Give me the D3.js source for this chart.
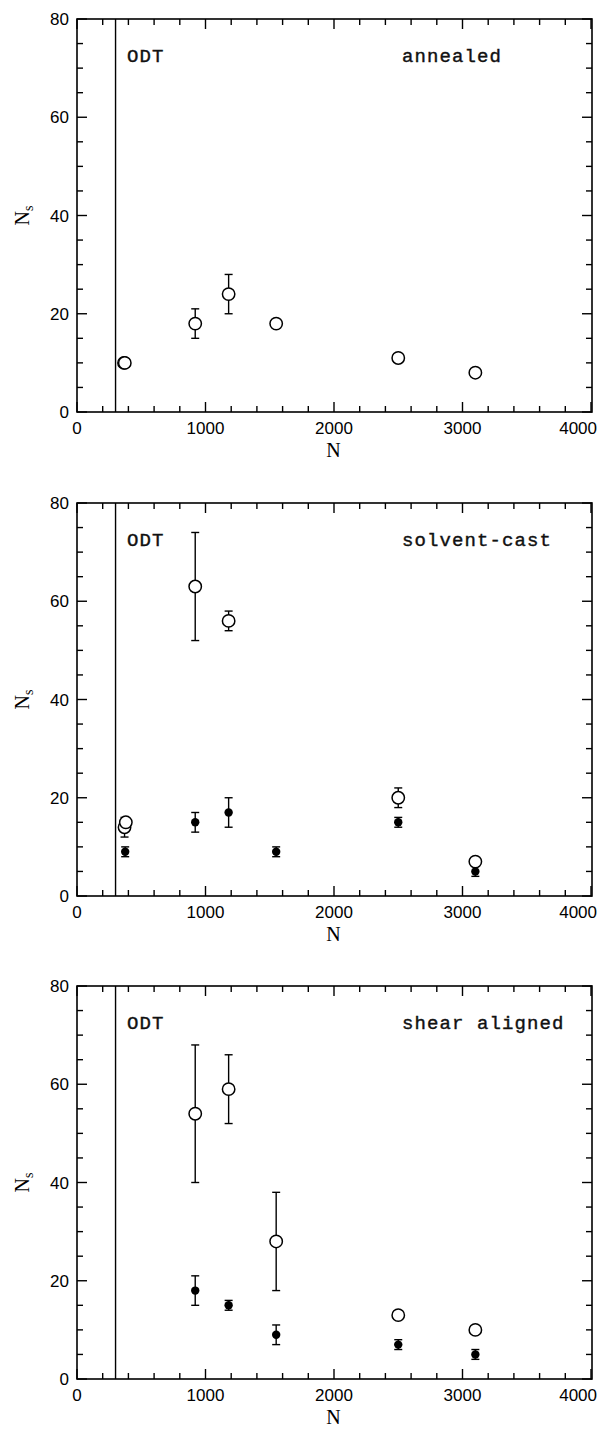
<!DOCTYPE html>
<html><head><meta charset="utf-8">
<script src="https://cdn.jsdelivr.net/npm/d3@7"></script>
<style>body{margin:0;background:#fff}svg{display:block}</style>
</head><body>
<svg id="c" width="600" height="1434"></svg>
<script>
// ---- data ----
const panelNames = ["annealed", "solvent-cast", "shear aligned"];
const odtN = 300;
const xTicks = [0, 1000, 2000, 3000, 4000];
const yTicks = [0, 20, 40, 60, 80];
// [N, Ns, low, high] ; low/high null => no error bar
const annealedOpen = [[366,10,null,null],[372,10,null,null],[920,18,15,21],[1180,24,20,28],[1550,18,null,null],[2500,11,null,null],[3100,8,null,null]];
const annealedFilled = [];
const solventOpen = [[370,14,12,16],[380,15,null,null],[920,63,52,74],[1180,56,54,58],[2500,20,18,22],[3100,7,null,null]];
const solventFilled = [[375,9,8,10],[920,15,13,17],[1180,17,14,20],[1550,9,8,10],[2500,15,14,16],[3100,5,4,6]];
const shearOpen = [[920,54,40,68],[1180,59,52,66],[1550,28,18,38],[2500,13,null,null],[3100,10,null,null]];
const shearFilled = [[920,18,15,21],[1180,15,14,16],[1550,9,7,11],[2500,7,6,8],[3100,5,4,6]];

const panels = [
  {name: panelNames[0], open: annealedOpen, filled: annealedFilled, top: 19},
  {name: panelNames[1], open: solventOpen, filled: solventFilled, top: 503},
  {name: panelNames[2], open: shearOpen, filled: shearFilled, top: 986}
];

const svg = d3.select("#c");
const L = 77, R = 592, H = 393;
const x = d3.scaleLinear().domain([0, 4000]).range([L, R - 1]);

panels.forEach(p => {
  const y = d3.scaleLinear().domain([0, 80]).range([p.top + H, p.top]);
  const g = svg.append("g");
  const yb = p.top + H;

  // frame
  g.append("rect").attr("x", L).attr("y", p.top).attr("width", R - L).attr("height", H)
    .attr("fill", "none").attr("stroke", "#000").attr("stroke-width", 1.6);

  // x ticks (inward, bottom and top)
  d3.range(0, 4001, 200).forEach(v => {
    const major = v % 1000 === 0;
    const len = major ? 10 : 6;
    const xx = x(v);
    g.append("line").attr("x1", xx).attr("x2", xx).attr("y1", yb).attr("y2", yb - len).attr("stroke", "#000").attr("stroke-width", 1.4);
    g.append("line").attr("x1", xx).attr("x2", xx).attr("y1", p.top).attr("y2", p.top + len).attr("stroke", "#000").attr("stroke-width", 1.4);
  });
  // y ticks (inward, left and right)
  d3.range(0, 81, 5).forEach(v => {
    const major = v % 20 === 0;
    const len = major ? 10 : 6;
    const yy = y(v);
    g.append("line").attr("x1", L).attr("x2", L + len).attr("y1", yy).attr("y2", yy).attr("stroke", "#000").attr("stroke-width", 1.4);
    g.append("line").attr("x1", R).attr("x2", R - len).attr("y1", yy).attr("y2", yy).attr("stroke", "#000").attr("stroke-width", 1.4);
  });

  // tick labels
  g.selectAll(".xl").data(xTicks).enter().append("text")
    .attr("x", d => d === 4000 ? 597 : x(d)).attr("y", yb + 22)
    .attr("text-anchor", d => d === 4000 ? "end" : "middle")
    .attr("font-family", "Liberation Sans, Arial, sans-serif").attr("font-size", 17).text(d => d);
  g.selectAll(".yl").data(yTicks).enter().append("text")
    .attr("x", L - 8).attr("y", d => y(d) + 6).attr("text-anchor", "end")
    .attr("font-family", "Liberation Sans, Arial, sans-serif").attr("font-size", 17).text(d => d);

  // axis titles
  g.append("text").attr("x", (L + R) / 2 - 1).attr("y", yb + 45).attr("text-anchor", "middle")
    .attr("font-family", "Liberation Serif, Times New Roman, serif").attr("font-size", 20).text("N");
  const yt = g.append("text").attr("transform", `translate(29,${(p.top + yb) / 2}) rotate(-90)`)
    .attr("text-anchor", "middle").attr("font-family", "Liberation Serif, Times New Roman, serif").attr("font-size", 20);
  yt.append("tspan").text("N");
  yt.append("tspan").attr("font-size", 14).attr("dy", 4).text("s");

  // ODT line
  g.append("line").attr("x1", x(odtN)).attr("x2", x(odtN)).attr("y1", p.top).attr("y2", yb)
    .attr("stroke", "#000").attr("stroke-width", 1.4);

  // labels
  g.append("text").attr("x", 127).attr("y", p.top + 43)
    .attr("font-family", "Liberation Mono, Courier New, monospace").attr("font-size", 19).attr("letter-spacing", 1.1)
    .attr("fill", "#111").attr("stroke", "#111").attr("stroke-width", 0.4).text("ODT");
  g.append("text").attr("x", 402).attr("y", p.top + 43).attr("text-anchor", "start")
    .attr("font-family", "Liberation Mono, Courier New, monospace").attr("font-size", 19).attr("letter-spacing", 1.1)
    .attr("fill", "#111").attr("stroke", "#111").attr("stroke-width", 0.4).text(p.name);

  // error bars
  p.open.concat(p.filled).filter(d => d[2] !== null).forEach(d => {
    const xx = x(d[0]);
    g.append("line").attr("x1", xx).attr("x2", xx).attr("y1", y(d[2])).attr("y2", y(d[3])).attr("stroke", "#000").attr("stroke-width", 1.4);
    [d[2], d[3]].forEach(v => {
      g.append("line").attr("x1", xx - 4).attr("x2", xx + 4).attr("y1", y(v)).attr("y2", y(v)).attr("stroke", "#000").attr("stroke-width", 1.4);
    });
  });

  // open circles
  g.selectAll(".op").data(p.open).enter().append("circle")
    .attr("cx", d => x(d[0])).attr("cy", d => y(d[1])).attr("r", 6.2)
    .attr("fill", "#fff").attr("stroke", "#000").attr("stroke-width", 1.5);
  // filled circles
  g.selectAll(".fp").data(p.filled).enter().append("circle")
    .attr("cx", d => x(d[0])).attr("cy", d => y(d[1])).attr("r", 4.2)
    .attr("fill", "#000");
});
</script>
</body></html>
